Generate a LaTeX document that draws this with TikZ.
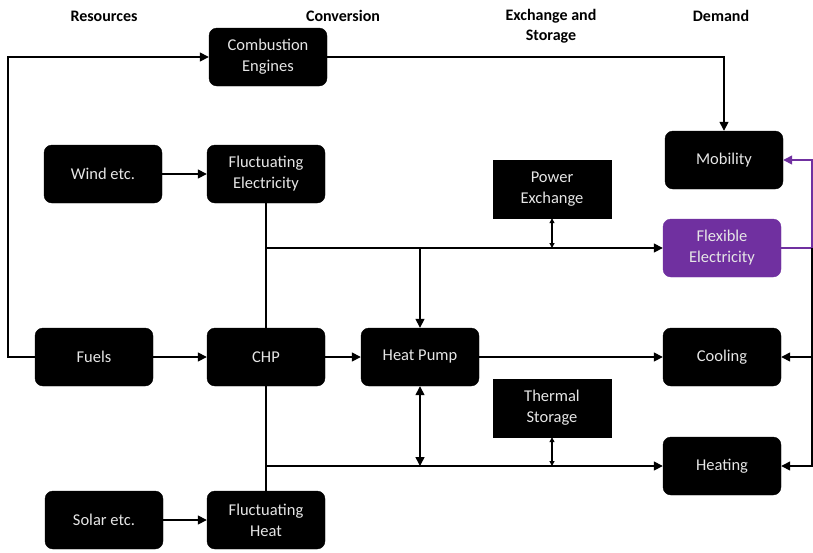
\documentclass[tikz,border=0pt]{standalone}
\usepackage{fontspec}
\setmainfont{Carlito}
\usetikzlibrary{arrows.meta}
\definecolor{purp}{HTML}{7030A0}
\definecolor{txt}{HTML}{E6E6E6}
\begin{document}
\begin{tikzpicture}[x=1pt,y=-1pt,
  box/.style={fill=black,draw=black,rounded corners=8pt,minimum width=118pt,minimum height=58pt,text=txt,align=center,font=\fontsize{16.5}{21}\selectfont,inner sep=0pt},
  sbox/.style={box,rounded corners=0pt},
  hdr/.style={font=\fontsize{16}{20}\selectfont\bfseries,align=center},
  conn/.style={line width=1.5pt,-{Triangle[length=9pt,width=9pt]}},
  ln/.style={line width=1.5pt},
  dbl/.style={line width=1.5pt,{Triangle[length=9pt,width=9pt]}-{Triangle[length=9pt,width=9pt]}},
  sdbl/.style={line width=1.2pt,{Triangle[length=5pt,width=5pt]}-{Triangle[length=5pt,width=5pt]}}]
\useasboundingbox (0,0) rectangle (813,552);
% headers
\node[hdr] (h1) at (104,16) {Resources};
\node[hdr] (h2) at (343,16) {Conversion};
\node[hdr] (h3) at (551,26) {Exchange and\\Storage};
\node[hdr] (h4) at (721,16) {Demand};
% boxes
\node[box] (ce) at (268,57) {Combustion\\Engines};
\node[box] (wind) at (103,174) {Wind etc.};
\node[box] (fe) at (266,174) {Fluctuating\\Electricity};
\node[box] (mob) at (724,160) {Mobility};
\node[sbox] (pe) at (552,189) {Power\\Exchange};
\node[box,fill=purp,draw=purp] (flex) at (722,248) {Flexible\\Electricity};
\node[box] (fuels) at (94,357) {Fuels};
\node[box] (chp) at (266,357) {CHP};
\node[box] (hp) at (420,357) {Heat Pump};
\node[box] (cool) at (722,357) {Cooling};
\node[sbox] (ts) at (552,408) {Thermal\\Storage};
\node[box] (heat) at (722,466) {Heating};
\node[box] (solar) at (104,520) {Solar etc.};
\node[box] (fh) at (266,520) {Fluctuating\\Heat};
% junction coordinates
\coordinate (jE) at (266,248);
\coordinate (jH) at (266,466);
\coordinate (jR) at (812,248);
% connectors
\draw[conn] (fuels.west) -- (8,357) |- (ce.west);
\draw[conn] (ce.east) -| (mob.north);
\draw[conn] (wind) -- (fe);
\draw[conn] (solar) -- (fh);
\draw[ln] (fe.south) -- (chp.north);
\draw[conn] (jE) -- (flex.west);
\draw[conn] (420,248) -- (hp.north);
\draw[sdbl] (pe.south) -- (552,248);
\draw[conn] (fuels) -- (chp);
\draw[conn] (chp) -- (hp);
\draw[conn] (hp) -- (cool);
\draw[ln] (chp.south) -- (fh.north);
\draw[conn] (jH) -- (heat.west);
\draw[dbl] (hp.south) -- (420,466);
\draw[sdbl] (ts.south) -- (552,466);
\draw[line width=1.5pt,purp] (flex.east) -- (jR);
\draw[conn,purp] (jR) |- (mob.east);
\draw[conn] (jR) |- (heat.east);
\draw[conn] (812,357) -- (cool.east);
\end{tikzpicture}
\end{document}
